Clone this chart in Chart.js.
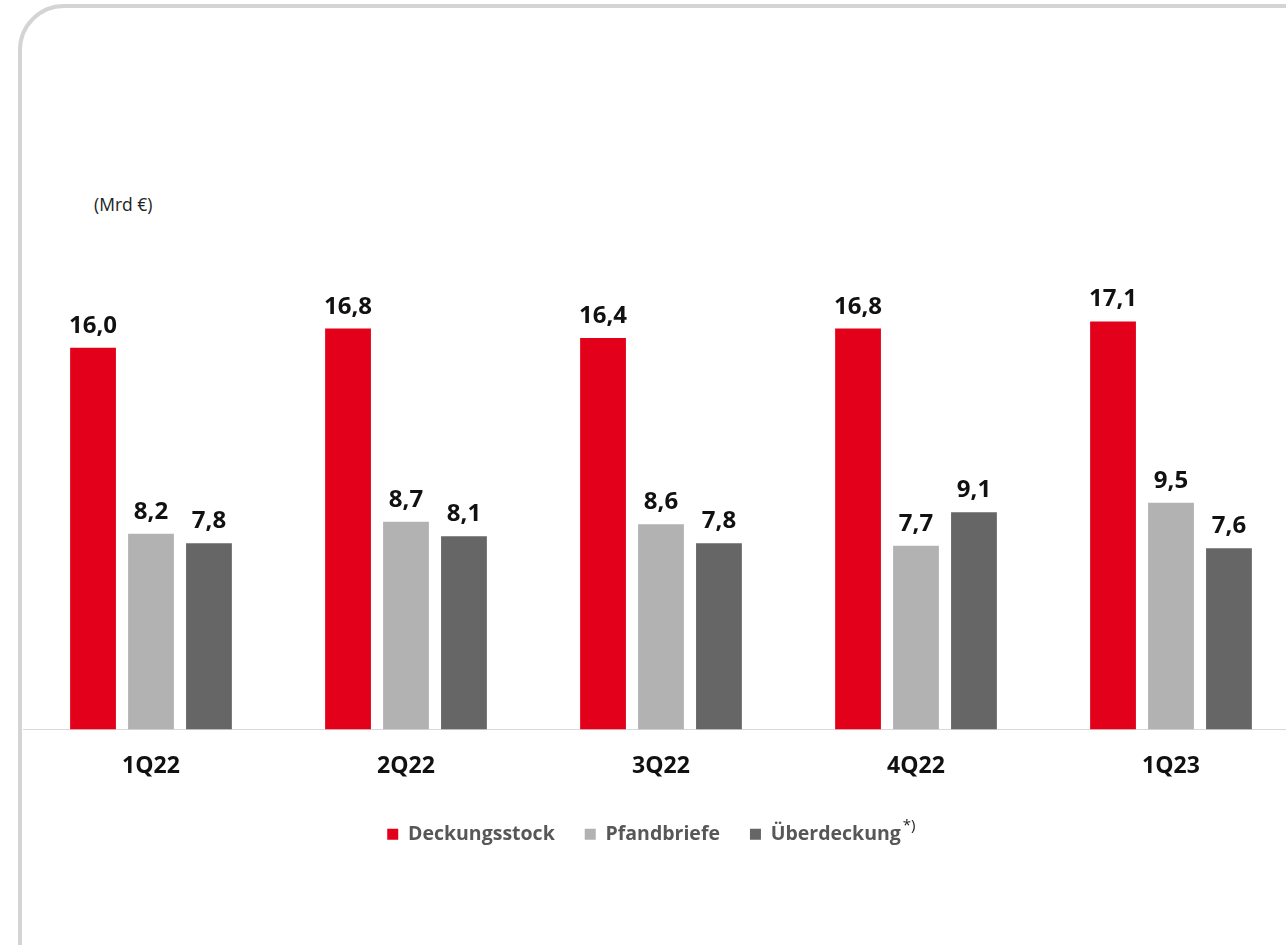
<!DOCTYPE html>
<html>
<head>
<meta charset="utf-8">
<script src="https://cdn.jsdelivr.net/npm/chart.js@4.4.1/dist/chart.umd.min.js"></script>
<style>
  html, body { margin: 0; padding: 0; background: #ffffff; overflow: hidden; width: 1286px; height: 945px; }
  #card { position: absolute; left: 18px; top: 4px; width: 1400px; height: 1100px; border: 4px solid #d4d4d4; border-radius: 46px; box-sizing: border-box; }
  #unit { position: absolute; left: 94px; top: 193px; font-family: "Open Sans", sans-serif; font-size: 17.5px; line-height: 22px; color: #222; }
  #wrap { position: absolute; left: 0; top: 0; width: 1300px; height: 945px; }
</style>
</head>
<body>
<div id="card"></div>
<div id="unit">(Mrd €)</div>
<div id="wrap"><canvas id="c" width="1300" height="945"></canvas></div>
<script>
const categories = ['1Q22', '2Q22', '3Q22', '4Q22', '1Q23'];
const seriesNames = ['Deckungsstock', 'Pfandbriefe', 'Überdeckung'];
const deckungsstock = [16.0, 16.8, 16.4, 16.8, 17.1];
const pfandbriefe = [8.2, 8.7, 8.6, 7.7, 9.5];
const ueberdeckung = [7.8, 8.1, 7.8, 9.1, 7.6];
const seriesColors = ['#e2001a', '#b2b2b2', '#666666'];

const LEGEND_FS = 19.5;

const valueLabels = {
  id: 'valueLabels',
  afterDatasetsDraw(chart) {
    const ctx = chart.ctx;
    ctx.save();
    ctx.font = 'bold 24px "Open Sans"';
    ctx.fillStyle = '#111111';
    ctx.textAlign = 'center';
    ctx.textBaseline = 'alphabetic';
    chart.data.datasets.forEach((ds, i) => {
      chart.getDatasetMeta(i).data.forEach((bar, j) => {
        const txt = ds.data[j].toFixed(1).replace('.', ',');
        ctx.fillText(txt, bar.x, bar.y - 15);
      });
    });
    ctx.restore();
  }
};

// center the legend on the page width rather than the padded chart box
const legendCenter = {
  id: 'legendCenter',
  afterLayout(chart) {
    const lg = chart.legend;
    if (!lg) return;
    lg.left = 0;
    lg.right = 1301;
    lg.width = 1301;
  }
};

const superscript = {
  id: 'superscript',
  afterDraw(chart) {
    const lg = chart.legend;
    if (!lg || !lg.legendHitBoxes || !lg.legendHitBoxes[2]) return;
    const hb = lg.legendHitBoxes[2];
    const ctx = chart.ctx;
    ctx.save();
    ctx.font = 'bold ' + LEGEND_FS + 'px "Open Sans"';
    const w = ctx.measureText(seriesNames[2]).width;
    const x = hb.left + 11 + LEGEND_FS / 2 + w + 2;
    ctx.font = '15px "Open Sans"';
    ctx.fillStyle = '#222222';
    ctx.textAlign = 'left';
    ctx.textBaseline = 'alphabetic';
    ctx.fillText('*)', x, hb.top + hb.height / 2 - 4);
    ctx.restore();
  }
};

new Chart(document.getElementById('c'), {
  type: 'bar',
  data: {
    labels: categories,
    datasets: [
      { label: seriesNames[0], data: deckungsstock, backgroundColor: seriesColors[0] },
      { label: seriesNames[1], data: pfandbriefe, backgroundColor: seriesColors[1] },
      { label: seriesNames[2], data: ueberdeckung, backgroundColor: seriesColors[2] }
    ]
  },
  options: {
    responsive: false,
    animation: false,
    devicePixelRatio: 1,
    layout: { padding: { left: 23.5, right: 1.5, top: 252.2, bottom: 91 } },
    datasets: { bar: { categoryPercentage: 0.682, barPercentage: 0.79 } },
    scales: {
      x: {
        grid: { display: true, color: 'transparent', drawOnChartArea: false, drawTicks: false },
        border: { display: true, color: '#d9d9d9', width: 1 },
        ticks: { color: '#111111', font: { family: 'Open Sans', size: 23, weight: 'bold' }, padding: 23 },
        afterFit(scale) { scale.height = 65; }
      },
      y: { display: false, min: 0, max: 20 }
    },
    plugins: {
      legend: {
        position: 'bottom',
        labels: {
          boxWidth: 11,
          boxHeight: 11,
          padding: 30,
          color: '#575757',
          font: { family: 'Open Sans', size: LEGEND_FS, weight: 'bold' },
          generateLabels(chart) {
            const items = Chart.defaults.plugins.legend.labels.generateLabels(chart);
            items.forEach(it => { it.lineWidth = 0; });
            items[2].text = items[2].text + '\u2002\u2009';
            return items;
          }
        }
      },
      tooltip: { enabled: false }
    }
  },
  plugins: [legendCenter, valueLabels, superscript]
});
</script>
</body>
</html>
